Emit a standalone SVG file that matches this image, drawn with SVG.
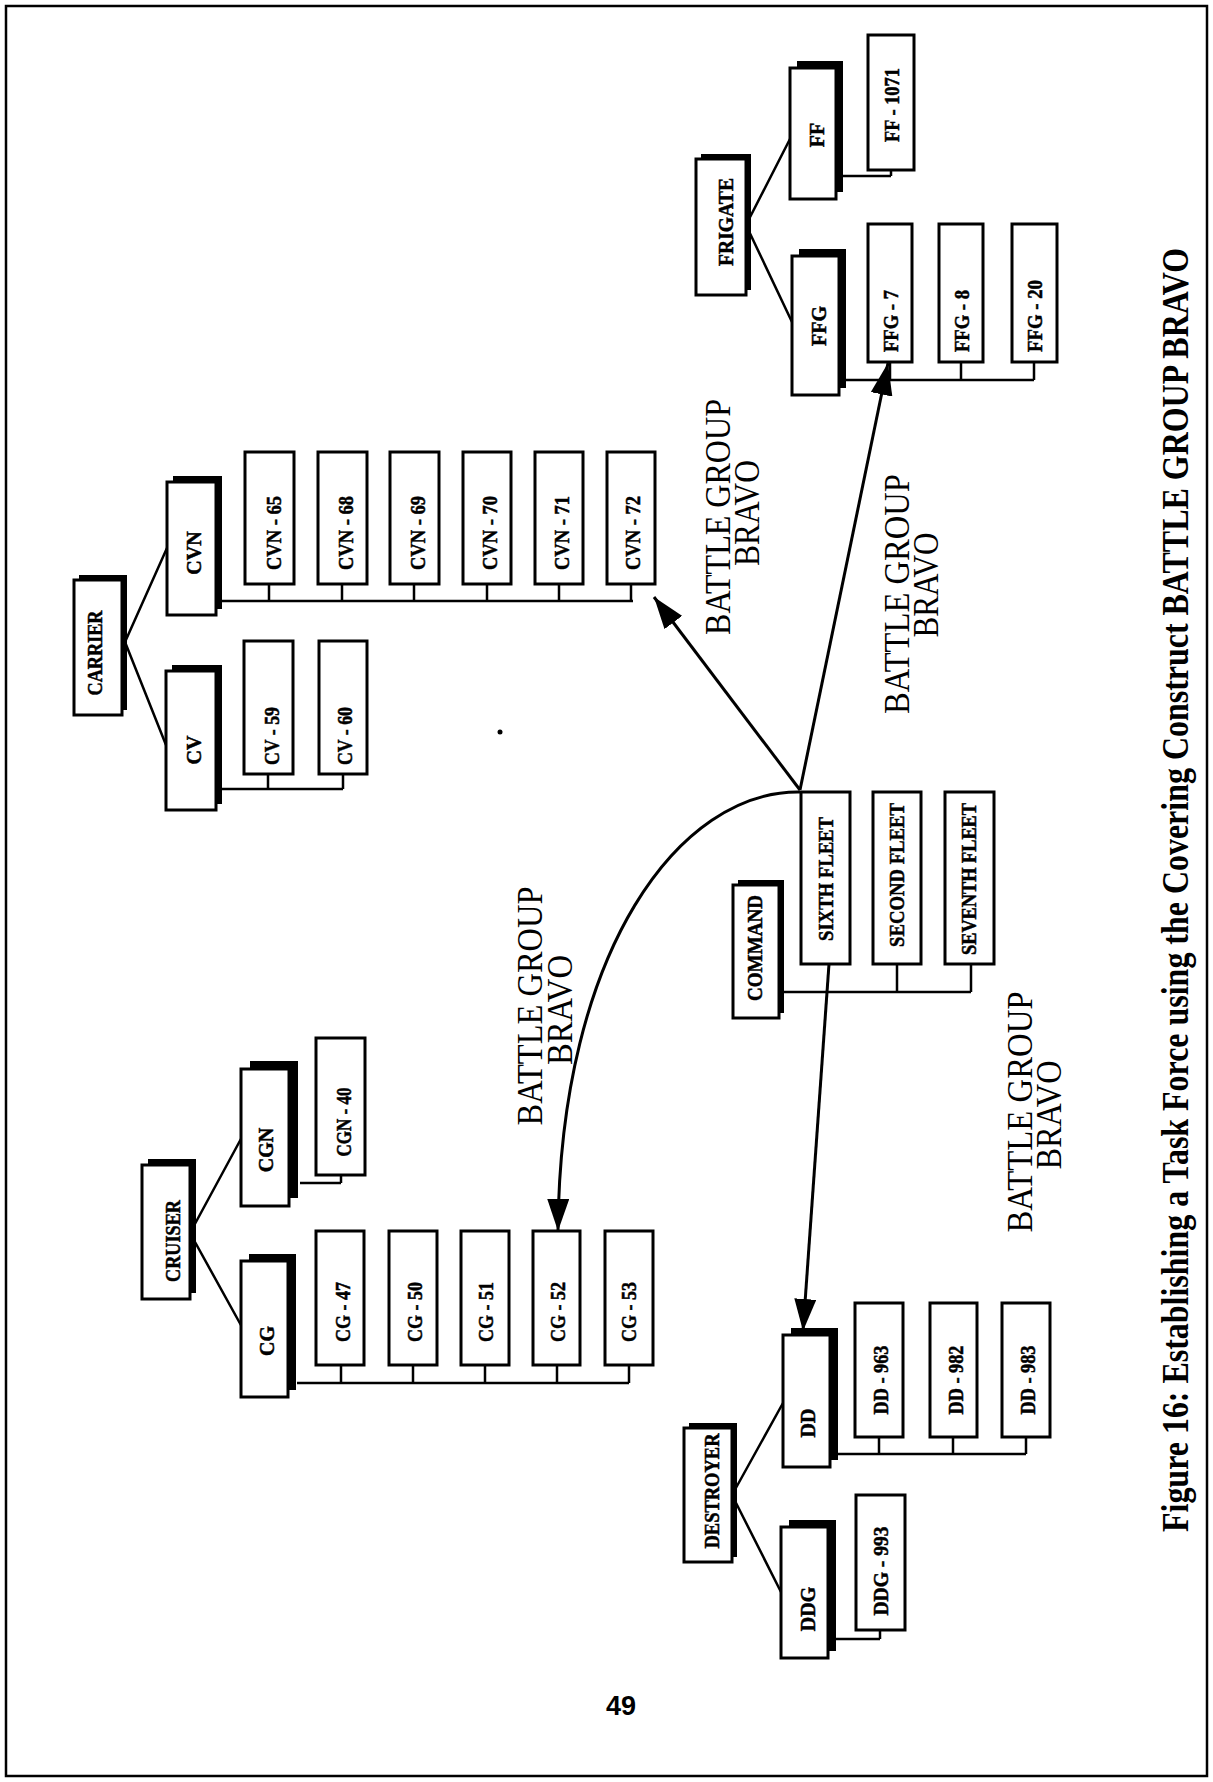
<svg xmlns="http://www.w3.org/2000/svg" width="1213" height="1782" viewBox="0 0 1213 1782">
<style>
.b{fill:#fff;stroke:#000;stroke-width:3}
.s{fill:#000}
.n{font-family:"Liberation Serif","Times New Roman",serif;font-weight:bold;font-size:20px;text-anchor:middle;fill:#000;stroke:#000;stroke-width:0.5}
.bg{font-family:"Liberation Serif","Times New Roman",serif;font-size:36px;text-anchor:middle;fill:#000}
.t{font-family:"Liberation Serif","Times New Roman",serif;font-weight:bold;font-size:38px;text-anchor:middle;fill:#000}
.pg{font-family:"Liberation Sans",Arial,sans-serif;font-weight:bold;font-size:27px;text-anchor:middle;fill:#000}
.c{fill:none;stroke:#000;stroke-width:2.5}
.a{fill:none;stroke:#000;stroke-width:3;marker-end:url(#ah)}
</style>
<defs>
<marker id="ah" markerUnits="userSpaceOnUse" markerWidth="32" markerHeight="22" viewBox="0 0 32 22" refX="32" refY="11" orient="auto"><path d="M0,0 L32,11 L0,22 Z" fill="#000"/></marker>
</defs>
<rect x="0" y="0" width="1213" height="1782" fill="#fff"/>
<rect x="6" y="6" width="1201" height="1770" fill="none" stroke="#000" stroke-width="2.5"/>

<g id="connectors">
<path class="c" d="M125,642 L167,548 M125,642 L166,745"/>
<path class="c" d="M222,601 L633,601 M269,584 V601 M342,584 V601 M414,584 V601 M487,584 V601 M559,584 V601 M631,584 V601"/>
<path class="c" d="M222,789 L343,789 M268,774 V789 M343,774 V789"/>
<path class="c" d="M746,225 L791,137 M746,225 L792,322"/>
<path class="c" d="M843,176 L891,176 M891,170 V176"/>
<path class="c" d="M846,380 L1034,380 M890,362 V380 M961,362 V380 M1034,362 V380"/>
<path class="c" d="M784,992 L971,992 M897,964 V992 M971,964 V992"/>
<path class="c" d="M190,1233 L242,1137 M190,1233 L242,1327"/>
<path class="c" d="M300,1183 L341,1183 M341,1175 V1183"/>
<path class="c" d="M297,1383 L629,1383 M341,1365 V1383 M413,1365 V1383 M485,1365 V1383 M557,1365 V1383 M629,1365 V1383"/>
<path class="c" d="M732,1495 L783,1403 M732,1495 L781,1592"/>
<path class="c" d="M838,1454 L1026,1454 M879,1437 V1454 M953,1437 V1454 M1026,1437 V1454"/>
<path class="c" d="M836,1639 L880,1639 M880,1630 V1639"/>
<path class="a" d="M800,790 L654,597"/>
<path class="a" d="M800,790 L888,363"/>
<path class="a" d="M800,792 C680,790 560,950 558,1231"/>
<path class="a" d="M829,964 L803,1331"/>
</g>

<g id="carrier"><rect class="s" x="79" y="575" width="48" height="135"/><rect class="b" x="74" y="580" width="48" height="135"/><text class="n" transform="translate(102,653) rotate(-90)" textLength="85" lengthAdjust="spacingAndGlyphs">CARRIER</text></g>
<g id="cv"><rect class="s" x="172" y="665" width="50" height="139"/><rect class="b" x="166" y="671" width="50" height="139"/><text class="n" transform="translate(201,750) rotate(-90)">CV</text></g>
<g id="cvn"><rect class="s" x="173" y="476" width="49" height="133"/><rect class="b" x="167" y="482" width="49" height="133"/><text class="n" transform="translate(201,553) rotate(-90)">CVN</text></g>
<g id="cv59"><rect class="b" x="244" y="641" width="49" height="133"/><text class="n" transform="translate(279,736) rotate(-90)" textLength="58" lengthAdjust="spacingAndGlyphs">CV - 59</text></g>
<g id="cv60"><rect class="b" x="319" y="641" width="48" height="133"/><text class="n" transform="translate(352,736) rotate(-90)" textLength="58" lengthAdjust="spacingAndGlyphs">CV - 60</text></g>
<g id="cvn65"><rect class="b" x="245" y="452" width="49" height="132"/><text class="n" transform="translate(281,533) rotate(-90)" textLength="74" lengthAdjust="spacingAndGlyphs">CVN - 65</text></g>
<g id="cvn68"><rect class="b" x="318" y="452" width="49" height="132"/><text class="n" transform="translate(353,533) rotate(-90)" textLength="74" lengthAdjust="spacingAndGlyphs">CVN - 68</text></g>
<g id="cvn69"><rect class="b" x="390" y="452" width="49" height="132"/><text class="n" transform="translate(425,533) rotate(-90)" textLength="74" lengthAdjust="spacingAndGlyphs">CVN - 69</text></g>
<g id="cvn70"><rect class="b" x="463" y="452" width="48" height="132"/><text class="n" transform="translate(497,533) rotate(-90)" textLength="74" lengthAdjust="spacingAndGlyphs">CVN - 70</text></g>
<g id="cvn71"><rect class="b" x="535" y="452" width="48" height="132"/><text class="n" transform="translate(569,533) rotate(-90)" textLength="74" lengthAdjust="spacingAndGlyphs">CVN - 71</text></g>
<g id="cvn72"><rect class="b" x="607" y="452" width="48" height="132"/><text class="n" transform="translate(640,533) rotate(-90)" textLength="74" lengthAdjust="spacingAndGlyphs">CVN - 72</text></g>

<g id="frigate"><rect class="s" x="701" y="154" width="50" height="136"/><rect class="b" x="696" y="159" width="50" height="136"/><text class="n" transform="translate(733,222) rotate(-90)" textLength="88" lengthAdjust="spacingAndGlyphs">FRIGATE</text></g>
<g id="ff"><rect class="s" x="797" y="61" width="46" height="131"/><rect class="b" x="790" y="68" width="46" height="131"/><text class="n" transform="translate(824,135) rotate(-90)">FF</text></g>
<g id="ff1071"><rect class="b" x="868" y="35" width="46" height="135"/><text class="n" transform="translate(899,105) rotate(-90)" textLength="74" lengthAdjust="spacingAndGlyphs">FF - 1071</text></g>
<g id="ffg"><rect class="s" x="799" y="249" width="47" height="139"/><rect class="b" x="792" y="256" width="47" height="139"/><text class="n" transform="translate(826,326) rotate(-90)">FFG</text></g>
<g id="ffg7"><rect class="b" x="868" y="224" width="44" height="138"/><text class="n" transform="translate(898,321) rotate(-90)" textLength="62" lengthAdjust="spacingAndGlyphs">FFG - 7</text></g>
<g id="ffg8"><rect class="b" x="939" y="224" width="44" height="138"/><text class="n" transform="translate(969,321) rotate(-90)" textLength="62" lengthAdjust="spacingAndGlyphs">FFG - 8</text></g>
<g id="ffg20"><rect class="b" x="1012" y="224" width="45" height="138"/><text class="n" transform="translate(1042,316) rotate(-90)" textLength="72" lengthAdjust="spacingAndGlyphs">FFG - 20</text></g>

<g id="command"><rect class="s" x="738" y="880" width="46" height="133"/><rect class="b" x="733" y="885" width="46" height="133"/><text class="n" transform="translate(762,948) rotate(-90)" textLength="106" lengthAdjust="spacingAndGlyphs">COMMAND</text></g>
<g id="sixth"><rect class="b" x="801" y="792" width="49" height="172"/><text class="n" transform="translate(833,879) rotate(-90)" textLength="124" lengthAdjust="spacingAndGlyphs">SIXTH FLEET</text></g>
<g id="second"><rect class="b" x="873" y="792" width="48" height="172"/><text class="n" transform="translate(904,875) rotate(-90)" textLength="144" lengthAdjust="spacingAndGlyphs">SECOND FLEET</text></g>
<g id="seventh"><rect class="b" x="945" y="792" width="49" height="172"/><text class="n" transform="translate(976,879) rotate(-90)" textLength="152" lengthAdjust="spacingAndGlyphs">SEVENTH FLEET</text></g>

<g id="cruiser"><rect class="s" x="148" y="1159" width="48" height="134"/><rect class="b" x="142" y="1165" width="48" height="134"/><text class="n" transform="translate(180,1241) rotate(-90)" textLength="82" lengthAdjust="spacingAndGlyphs">CRUISER</text></g>
<g id="cgn"><rect class="s" x="250" y="1061" width="48" height="137"/><rect class="b" x="241" y="1069" width="48" height="137"/><text class="n" transform="translate(273,1150) rotate(-90)">CGN</text></g>
<g id="cg"><rect class="s" x="249" y="1254" width="47" height="136"/><rect class="b" x="241" y="1261" width="47" height="136"/><text class="n" transform="translate(274,1341) rotate(-90)">CG</text></g>
<g id="cgn40"><rect class="b" x="316" y="1038" width="49" height="137"/><text class="n" transform="translate(351,1122) rotate(-90)" textLength="69" lengthAdjust="spacingAndGlyphs">CGN - 40</text></g>
<g id="cg47"><rect class="b" x="316" y="1231" width="48" height="134"/><text class="n" transform="translate(350,1312) rotate(-90)" textLength="60" lengthAdjust="spacingAndGlyphs">CG - 47</text></g>
<g id="cg50"><rect class="b" x="389" y="1231" width="48" height="134"/><text class="n" transform="translate(422,1312) rotate(-90)" textLength="60" lengthAdjust="spacingAndGlyphs">CG - 50</text></g>
<g id="cg51"><rect class="b" x="461" y="1231" width="48" height="134"/><text class="n" transform="translate(493,1312) rotate(-90)" textLength="60" lengthAdjust="spacingAndGlyphs">CG - 51</text></g>
<g id="cg52"><rect class="b" x="533" y="1231" width="47" height="134"/><text class="n" transform="translate(565,1312) rotate(-90)" textLength="60" lengthAdjust="spacingAndGlyphs">CG - 52</text></g>
<g id="cg53"><rect class="b" x="605" y="1231" width="48" height="134"/><text class="n" transform="translate(636,1312) rotate(-90)" textLength="60" lengthAdjust="spacingAndGlyphs">CG - 53</text></g>

<g id="destroyer"><rect class="s" x="689" y="1423" width="48" height="134"/><rect class="b" x="684" y="1428" width="48" height="134"/><text class="n" transform="translate(719,1491) rotate(-90)" textLength="115" lengthAdjust="spacingAndGlyphs">DESTROYER</text></g>
<g id="dd"><rect class="s" x="791" y="1328" width="47" height="132"/><rect class="b" x="783" y="1335" width="47" height="132"/><text class="n" transform="translate(815,1423) rotate(-90)">DD</text></g>
<g id="ddg"><rect class="s" x="789" y="1520" width="47" height="131"/><rect class="b" x="781" y="1527" width="47" height="131"/><text class="n" transform="translate(815,1609) rotate(-90)">DDG</text></g>
<g id="dd963"><rect class="b" x="855" y="1303" width="48" height="134"/><text class="n" transform="translate(888,1380) rotate(-90)" textLength="69" lengthAdjust="spacingAndGlyphs">DD - 963</text></g>
<g id="dd982"><rect class="b" x="930" y="1303" width="47" height="134"/><text class="n" transform="translate(963,1380) rotate(-90)" textLength="69" lengthAdjust="spacingAndGlyphs">DD - 982</text></g>
<g id="dd983"><rect class="b" x="1002" y="1303" width="48" height="134"/><text class="n" transform="translate(1035,1380) rotate(-90)" textLength="69" lengthAdjust="spacingAndGlyphs">DD - 983</text></g>
<g id="ddg993"><rect class="b" x="856" y="1495" width="49" height="135"/><text class="n" transform="translate(888,1571) rotate(-90)" textLength="89" lengthAdjust="spacingAndGlyphs">DDG - 993</text></g>

<g id="labels">
<text class="bg" transform="translate(730,517) rotate(-90)" textLength="236" lengthAdjust="spacingAndGlyphs">BATTLE GROUP</text>
<text class="bg" transform="translate(759,513) rotate(-90)" textLength="106" lengthAdjust="spacingAndGlyphs">BRAVO</text>
<text class="bg" transform="translate(909,594) rotate(-90)" textLength="240" lengthAdjust="spacingAndGlyphs">BATTLE GROUP</text>
<text class="bg" transform="translate(938,585) rotate(-90)" textLength="105" lengthAdjust="spacingAndGlyphs">BRAVO</text>
<text class="bg" transform="translate(542,1006) rotate(-90)" textLength="239" lengthAdjust="spacingAndGlyphs">BATTLE GROUP</text>
<text class="bg" transform="translate(572,1010) rotate(-90)" textLength="110" lengthAdjust="spacingAndGlyphs">BRAVO</text>
<text class="bg" transform="translate(1032,1112) rotate(-90)" textLength="241" lengthAdjust="spacingAndGlyphs">BATTLE GROUP</text>
<text class="bg" transform="translate(1061,1115) rotate(-90)" textLength="109" lengthAdjust="spacingAndGlyphs">BRAVO</text>
</g>
<circle cx="500" cy="732" r="2.5" fill="#000"/>
<text class="t" transform="translate(1188,890) rotate(-90)" textLength="1284" lengthAdjust="spacingAndGlyphs">Figure 16: Establishing a Task Force using the Covering Construct BATTLE GROUP BRAVO</text>
<text class="pg" x="621" y="1715">49</text>
</svg>
